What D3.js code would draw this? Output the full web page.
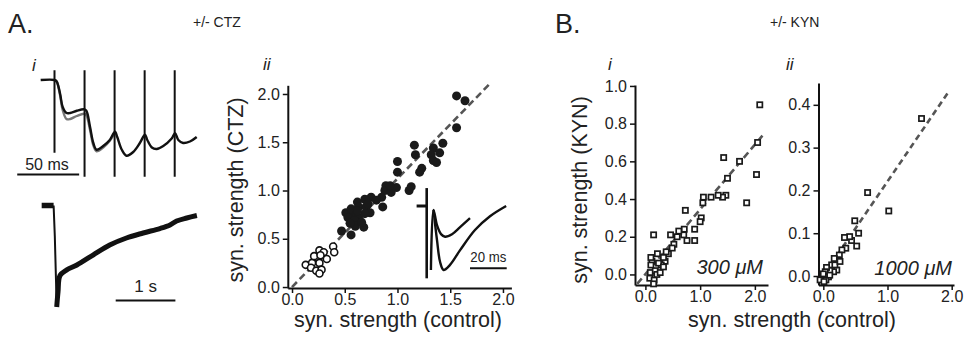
<!DOCTYPE html>
<html>
<head>
<meta charset="utf-8">
<script src="https://cdn.jsdelivr.net/npm/d3@7"></script>
<style>
  body { margin: 0; background: #fff; }
  svg { display: block; }
</style>
</head>
<body>
<script>
// --- data ---
// A ii: syn. strength control vs CTZ
const ctzFilled = [
  [1.56,1.98],[1.64,1.93],[1.56,1.65],[1.16,1.47],[1.43,1.49],[1.34,1.44],[1.40,1.39],[1.32,1.37],
  [1.17,1.37],[1.34,1.31],[1.23,1.23],[1.21,1.19],[1.00,1.30],[1.00,1.19],[1.11,1.00],[1.13,1.04],
  [0.99,1.03],[0.89,1.05],[0.88,1.00],[0.94,0.98],[0.85,0.93],[0.86,0.83],[0.75,0.93],[0.69,0.91],
  [0.62,0.88],[0.63,0.83],[0.70,0.83],[0.74,0.77],[0.51,0.77],[0.58,0.76],[0.53,0.72],[0.63,0.72],
  [0.69,0.76],[0.59,0.69],[0.68,0.62],[0.60,0.63],[0.47,0.58],[0.56,0.54],[0.66,0.67],[0.56,0.81],
  [0.80,0.90],[0.55,0.66],[0.62,0.79],[0.72,0.86],[0.93,1.05],[1.37,1.29]
];
const ctzOpen = [
  [0.13,0.23],[0.19,0.25],[0.26,0.38],[0.30,0.36],[0.39,0.42],[0.40,0.36],[0.33,0.29],[0.25,0.30],
  [0.21,0.32],[0.26,0.25],[0.18,0.20],[0.23,0.17],[0.28,0.18],[0.26,0.14],[0.27,0.33]
];
const ctzFit = [[0, 0], [1.87, 2.1]];
const ctzTicks = [0, 0.5, 1.0, 1.5, 2.0];

// B i: 300 uM KYN
const kyn300 = [
  [2.09,0.90],[2.05,0.70],[2.03,0.53],[1.85,0.38],[1.72,0.60],[1.50,0.51],[1.43,0.62],[1.47,0.42],
  [1.41,0.41],[1.33,0.42],[1.20,0.41],[1.06,0.41],[1.05,0.38],[1.02,0.30],[1.00,0.28],[0.90,0.24],
  [0.90,0.18],[0.76,0.18],[0.73,0.34],[0.71,0.24],[0.70,0.21],[0.61,0.23],[0.58,0.20],[0.52,0.16],
  [0.46,0.21],[0.49,0.14],[0.42,0.11],[0.38,0.12],[0.36,0.07],[0.33,0.09],[0.29,0.05],[0.24,0.06],
  [0.15,0.21],[0.22,0.11],[0.12,0.07],[0.10,0.05],[0.09,0.01],[0.18,0.02],[0.08,-0.02],[0.16,-0.03],
  [0.15,-0.05],[0.21,0.00],[0.27,0.01],[0.33,0.04],[0.10,0.09]
];
const kyn300Fit = [[-0.15, -0.05], [2.15, 0.74]];
const kyn300YTicks = [0, 0.2, 0.4, 0.6, 0.8, 1.0];

// B ii: 1000 uM KYN
const kyn1000 = [
  [1.53,0.368],[0.69,0.195],[1.02,0.152],[0.49,0.129],[0.55,0.100],[0.52,0.070],[0.44,0.083],
  [0.41,0.092],[0.33,0.090],[0.35,0.065],[0.29,0.061],[0.25,0.049],[0.22,0.038],[0.17,0.041],
  [0.13,0.026],[0.21,0.014],[0.16,0.010],[0.10,0.013],[0.05,0.020],[0.03,0.010],[0.00,0.005],
  [0.08,-0.002],[0.04,-0.009],[-0.05,-0.009],[0.01,-0.013],[0.18,0.026],[0.26,0.034],[0.10,0.002]
];
const kyn1000Fit = [[-0.05, -0.01], [1.95, 0.43]];
const kyn1000YTicks = [0, 0.1, 0.2, 0.3, 0.4];
const kynXTicks = [0, 1, 2];

// A i: 40 Hz train (ms, normalised amplitude)
const stimTimes = [0, 25, 50, 75, 100];
const stimBottoms = [-0.97, -1.29, -1.29, -1.29, -1.29];
const trainBlack = [
  [-11.5,0],[0,0],[1.8,-0.02],[4.6,-0.18],[6.8,-0.36],[10,-0.44],[13,-0.44],[18.5,-0.41],[24.5,-0.39],
  [26.5,-0.41],[29.5,-0.62],[32.3,-0.84],[35,-0.93],[40.5,-0.88],[46,-0.8],[50.3,-0.69],[52.2,-0.76],
  [56,-0.93],[60,-1.01],[65.5,-0.96],[71,-0.84],[75.3,-0.73],[77.2,-0.8],[81,-0.9],[85,-0.92],
  [90.5,-0.88],[97.5,-0.78],[100.3,-0.71],[103,-0.8],[107,-0.84],[112.7,-0.82],[118.3,-0.76]
];
const trainGray = [
  [0,0],[1.8,-0.02],[4.6,-0.2],[6.8,-0.4],[10,-0.52],[13,-0.52],[18.5,-0.48],[24.5,-0.45],
  [26.5,-0.47],[29.5,-0.66],[32.3,-0.87],[35,-0.95],[40.5,-0.9],[46,-0.81],[50.3,-0.7]
];

// A i: long response (s, normalised amplitude)
const longBaseline = [[-0.24,0],[-0.04,0]];
const longDrop = [[-0.04,0],[-0.02,-0.3],[0.012,-1.0]];
const longRecovery = [
  [0.012,-1.0],[0.034,-0.85],[0.067,-0.69],[0.18,-0.635],[0.35,-0.586],[0.62,-0.488],[0.9,-0.389],
  [1.18,-0.32],[1.46,-0.271],[1.74,-0.227],[1.91,-0.192],[2.02,-0.153],[2.19,-0.123],[2.36,-0.099]
];

// A ii inset (ms, normalised amplitude)
const insetBaseline = [[-5.5,0],[0,0]];
const insetSmall = [
  [2.3,-1.0],[3.7,-0.06],[5.6,-0.3],[7.8,-0.44],[10,-0.48],[13.8,-0.44],[18.2,-0.33],[23.6,-0.19]
];
const insetLarge = [
  [3.7,-0.06],[5.6,-0.53],[7.3,-0.875],[9.2,-1.0],[12.7,-0.92],[18.2,-0.69],[26.3,-0.375],
  [34.5,-0.16],[43.3,0.0]
];

const FONT = "'Liberation Sans', Arial, sans-serif";
const INK = '#222';

const svg = d3.select('body').append('svg')
  .attr('width', 964)
  .attr('height', 339)
  .style('font-family', FONT);

function label(x, y, txt, size, opts = {}) {
  const t = svg.append('text')
    .attr('x', x).attr('y', y)
    .attr('font-size', size)
    .attr('fill', opts.fill || INK)
    .attr('text-anchor', opts.anchor || 'start')
    .text(txt);
  if (opts.italic) t.attr('font-style', 'italic');
  if (opts.rotate) t.attr('transform', `rotate(-90, ${x}, ${y})`);
  if (opts.len) t.attr('textLength', opts.len).attr('lengthAdjust', 'spacingAndGlyphs');
  return t;
}

function styleAxis(g) {
  g.select('.domain').attr('stroke', '#111').attr('stroke-width', 2);
  g.selectAll('.tick line').attr('stroke', '#111').attr('stroke-width', 1.5);
  g.selectAll('.tick text')
    .attr('font-size', 16)
    .attr('font-family', FONT)
    .attr('fill', INK);
}

function scatterAxes(x, y, xTicks, yTicks) {
  svg.append('g')
    .attr('transform', `translate(0, ${y.range()[0]})`)
    .call(d3.axisBottom(x).tickValues(xTicks).tickFormat(d3.format('.1f'))
      .tickSize(5).tickSizeOuter(0).tickPadding(1))
    .call(styleAxis);
  svg.append('g')
    .attr('transform', `translate(${x.range()[0]}, 0)`)
    .call(d3.axisLeft(y).tickValues(yTicks).tickFormat(d3.format('.1f'))
      .tickSize(5).tickSizeOuter(0).tickPadding(3))
    .call(styleAxis);
}

function fitLine(x, y, pts, dash) {
  svg.append('path')
    .datum(pts)
    .attr('fill', 'none')
    .attr('stroke', '#555')
    .attr('stroke-width', 2.6)
    .attr('stroke-dasharray', dash)
    .attr('d', d3.line().x(d => x(d[0])).y(d => y(d[1])));
}

// ---------- headings ----------
label(8, 33, 'A.', 27);
label(193, 27, '+/- CTZ', 14);
label(555, 33, 'B.', 27);
label(770, 27, '+/- KYN', 14);
label(32, 71, 'i', 17, {italic: true});
label(263, 70, 'ii', 17, {italic: true});
label(608, 70, 'i', 17, {italic: true});
label(786, 70, 'ii', 17, {italic: true});

// ---------- A i: train ----------
const tx = d3.scaleLinear().domain([0, 100]).range([54.5, 174.7]);
const ty = d3.scaleLinear().domain([0, -1]).range([80, 155]);
const traceLine = d3.line().x(d => tx(d[0])).y(d => ty(d[1])).curve(d3.curveCatmullRom);

svg.append('path').datum(trainGray)
  .attr('fill', 'none').attr('stroke', '#777').attr('stroke-width', 2.4)
  .attr('d', traceLine);
svg.selectAll('line.stim')
  .data(stimTimes)
  .join('line')
  .attr('class', 'stim')
  .attr('x1', d => tx(d)).attr('x2', d => tx(d))
  .attr('y1', ty(0.13))
  .attr('y2', (d, i) => ty(stimBottoms[i]))
  .attr('stroke', '#111').attr('stroke-width', 2);
svg.append('path').datum(trainBlack)
  .attr('fill', 'none').attr('stroke', '#111').attr('stroke-width', 2.4)
  .attr('stroke-linejoin', 'round')
  .attr('d', traceLine);
// 50 ms bar
svg.append('line')
  .attr('x1', tx(-31)).attr('x2', tx(20.5))
  .attr('y1', 174.5).attr('y2', 174.5)
  .attr('stroke', '#111').attr('stroke-width', 2);
label(47, 170, '50 ms', 16, {anchor: 'middle'});

// ---------- A i: long response ----------
const lx = d3.scaleLinear().domain([0, 1]).range([56, 115.7]);
const ly = d3.scaleLinear().domain([0, -1]).range([205.5, 307]);
const longLine = d3.line().x(d => lx(d[0])).y(d => ly(d[1]));
svg.append('path').datum(longBaseline)
  .attr('fill', 'none').attr('stroke', '#111').attr('stroke-width', 5.5)
  .attr('d', longLine);
svg.append('path').datum(longDrop)
  .attr('fill', 'none').attr('stroke', '#111').attr('stroke-width', 2)
  .attr('d', longLine);
svg.append('path').datum(longRecovery)
  .attr('fill', 'none').attr('stroke', '#111').attr('stroke-width', 5)
  .attr('stroke-linejoin', 'round')
  .attr('d', longLine.curve(d3.curveCatmullRom));
svg.append('line')
  .attr('x1', lx(1)).attr('x2', lx(2))
  .attr('y1', ly(-0.936)).attr('y2', ly(-0.936))
  .attr('stroke', '#111').attr('stroke-width', 2);
label(lx(1.5), 292, '1 s', 17, {anchor: 'middle'});

// ---------- A ii: scatter ----------
const ax = d3.scaleLinear().domain([-0.04, 2.08]).range([287.8, 511.4]);
const ay = d3.scaleLinear().domain([-0.01, 2.09]).range([288, 85.3]);
scatterAxes(ax, ay, ctzTicks, ctzTicks);
fitLine(ax, ay, ctzFit, '7,4');

svg.append('g').selectAll('circle')
  .data(ctzFilled)
  .join('circle')
  .attr('cx', d => ax(d[0])).attr('cy', d => ay(d[1]))
  .attr('r', 4.5)
  .attr('fill', '#1a1a1a');
svg.append('g').selectAll('circle')
  .data(ctzOpen)
  .join('circle')
  .attr('cx', d => ax(d[0])).attr('cy', d => ay(d[1]))
  .attr('r', 3.5)
  .attr('fill', '#fff')
  .attr('stroke', '#111')
  .attr('stroke-width', 1.6);

label(243, 190, 'syn. strength (CTZ)', 21.5, {anchor: 'middle', rotate: true});
label(398, 327, 'syn. strength (control)', 21.5, {anchor: 'middle'});

// inset trace
const ix = d3.scaleLinear().domain([0, 20]).range([426.7, 463.4]);
const iy = d3.scaleLinear().domain([0, -1]).range([206, 270]);
const insetLine = d3.line().x(d => ix(d[0])).y(d => iy(d[1])).curve(d3.curveCatmullRom);
svg.append('path').datum(insetBaseline)
  .attr('fill', 'none').attr('stroke', '#111').attr('stroke-width', 3)
  .attr('d', insetLine);
svg.append('line')
  .attr('x1', ix(0)).attr('x2', ix(0))
  .attr('y1', iy(0.28)).attr('y2', iy(-1.13))
  .attr('stroke', '#111').attr('stroke-width', 2.6);
[insetSmall, insetLarge].forEach(tr => {
  svg.append('path').datum(tr)
    .attr('fill', 'none').attr('stroke', '#111').attr('stroke-width', 2.4)
    .attr('stroke-linejoin', 'round')
    .attr('d', insetLine);
});
svg.append('line')
  .attr('x1', ix(23.6)).attr('x2', ix(43.6))
  .attr('y1', iy(-0.973)).attr('y2', iy(-0.973))
  .attr('stroke', '#111').attr('stroke-width', 2);
label(ix(33.6), 262, '20 ms', 14, {anchor: 'middle', len: 36});

// ---------- B i ----------
const bx1 = d3.scaleLinear().domain([-0.19, 2.24]).range([635, 768]);
const by1 = d3.scaleLinear().domain([-0.056, 1.005]).range([285, 85]);
scatterAxes(bx1, by1, kynXTicks, kyn300YTicks);
fitLine(bx1, by1, kyn300Fit, '7,4');

function squares(x, y, pts) {
  svg.append('g').selectAll('rect')
    .data(pts)
    .join('rect')
    .attr('x', d => x(d[0]) - 2.6).attr('y', d => y(d[1]) - 2.6)
    .attr('width', 5.2).attr('height', 5.2)
    .attr('fill', '#fff')
    .attr('stroke', '#1a1a1a')
    .attr('stroke-width', 1.7);
}
squares(bx1, by1, kyn300);
label(763, 274, '300 \u03bcM', 20, {anchor: 'end', italic: true});

// ---------- B ii ----------
const bx2 = d3.scaleLinear().domain([-0.075, 2.036]).range([818.5, 954]);
const by2 = d3.scaleLinear().domain([-0.021, 0.451]).range([285, 83]);
scatterAxes(bx2, by2, kynXTicks, kyn1000YTicks);
fitLine(bx2, by2, kyn1000Fit, '6,4');
squares(bx2, by2, kyn1000);
label(952, 275, '1000 \u03bcM', 20, {anchor: 'end', italic: true});

label(587, 190, 'syn. strength (KYN)', 21.5, {anchor: 'middle', rotate: true});
label(792, 327, 'syn. strength (control)', 21.5, {anchor: 'middle'});
</script>
</body>
</html>
